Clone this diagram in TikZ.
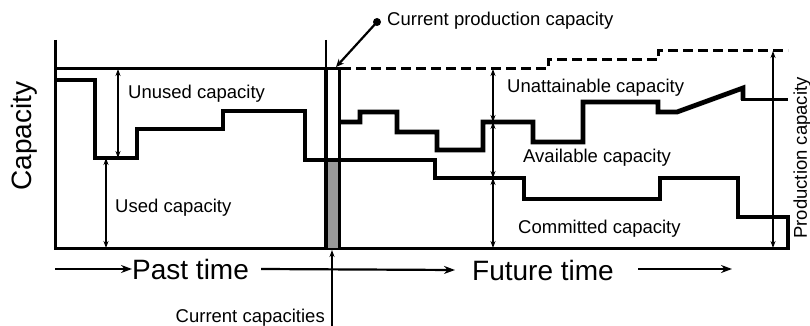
\documentclass[tikz,border=0pt]{standalone}
\usepackage{fontspec}
\setmainfont{Liberation Sans}
\usetikzlibrary{arrows.meta}
\begin{document}
\begin{tikzpicture}[x=1pt,y=-1pt,
  axis/.style={line width=3pt},
  thickline/.style={line width=4.8pt, line join=miter},
  dashline/.style={line width=3pt, dash pattern=on 10pt off 5pt},
  dim/.style={line width=1.4pt, {Stealth[length=7pt,width=5pt]}-{Stealth[length=7pt,width=5pt]}},
  timearrow/.style={line width=2.2pt, -{Stealth[length=11pt,width=8pt]}},
  pointer/.style={line width=2.2pt, -{Stealth[length=8pt,width=7pt]}},
  lbl/.style={font=\fontsize{18.5}{20}\selectfont, inner sep=0pt},
  big/.style={font=\fontsize{28}{30}\selectfont, inner sep=0pt},
]
\useasboundingbox (0,0) rectangle (810,326);

% axes
\draw[axis] (55,40) -- (55,248) -- (790,248);
\draw[axis] (55,69) -- (341,69);
% current-time bar
\fill[gray!80] (328,159) rectangle (337.5,248);
\draw[line width=2.6pt] (326,40) -- (326,69);
\draw[line width=4.4pt] (326,69) -- (326,248);
\draw[line width=3pt] (339,69) -- (339,248);

% used / committed capacity
\draw[thickline] (55,80) -- (95,80) -- (95,158) -- (137,158) -- (137,129) -- (223,129) -- (223,111) -- (305,111) -- (305,160) -- (435,160)
  -- (435,178) -- (524,178) -- (524,199) -- (660,199) -- (660,178) -- (738,178) -- (738,217) -- (788,217) -- (788,248);

% available capacity (future)
\draw[thickline] (339,122) -- (360,122) -- (360,112) -- (397,112) -- (397,132) -- (437,132) -- (437,150) -- (483,150) -- (483,122)
  -- (533,122) -- (533,142) -- (583,142) -- (583,102) -- (658,102) -- (658,112) -- (677,112) -- (743,88) -- (743,100);
\draw[line width=3pt] (741,100) -- (788,100);

% production capacity (future, dashed)
\draw[dashline] (341,69) -- (548,69) -- (548,60) -- (658,60) -- (658,51) -- (788,51);

% dimension arrows
\coordinate (u1) at (118,69);  \coordinate (u2) at (118,158);
\coordinate (s1) at (106,158); \coordinate (s2) at (106,248);
\coordinate (f1) at (493,69);  \coordinate (f2) at (493,122);
\coordinate (f3) at (493,178); \coordinate (f4) at (493,248);
\coordinate (p1) at (773,51);  \coordinate (p2) at (773,248);
\draw[dim] (u1) -- (u2);
\draw[dim] (s1) -- (s2);
\draw[dim] (f1) -- (f2);
\draw[dim] (f2) -- (f3);
\draw[dim] (f3) -- (f4);
\draw[dim] (p1) -- (p2);

% labels
\node[lbl, anchor=west] (unused) at (128,94) {Unused capacity};
\node[lbl, anchor=west] (used) at (115,208) {Used capacity};
\node[lbl, anchor=west] (unatt) at (507,88) {Unattainable capacity};
\node[lbl, anchor=west] (avail) at (523,158) {Available capacity};
\node[lbl, anchor=west] (commit) at (518,229) {Committed capacity};
\node[lbl, rotate=90] (prodcap) at (802,158) {Production capacity};
\node[big, rotate=90] (capacity) at (24,136) {Capacity};

% current production capacity pointer
\fill (377,22) circle (4pt);
\coordinate (cpcdot) at (377,22);
\coordinate (cpctip) at (336,67);
\node[lbl, anchor=west] (cpc) at (387,21) {Current production capacity};
\draw[pointer] (cpcdot) -- (cpctip);

% current capacities pointer
\node[lbl, anchor=east] (cc) at (325,318) {Current capacities};
\coordinate (ccbot) at (332,326);
\coordinate (cctop) at (332,250);
\draw[line width=1.4pt, -{Stealth[length=7pt,width=5pt]}] (ccbot) -- (cctop);

% time axis
\node[big, anchor=west] (past) at (132,269) {Past time};
\node[big, anchor=west] (future) at (472,270) {Future time};
\coordinate (t0) at (55,269);
\coordinate (t3) at (638,269);
\coordinate (t4) at (732,269);
\draw[timearrow] (t0) -- (past.west);
\draw[timearrow] ([xshift=12pt]past.east) -- ([xshift=-17pt]future.west);
\draw[timearrow] (t3) -- (t4);
\end{tikzpicture}
\end{document}
